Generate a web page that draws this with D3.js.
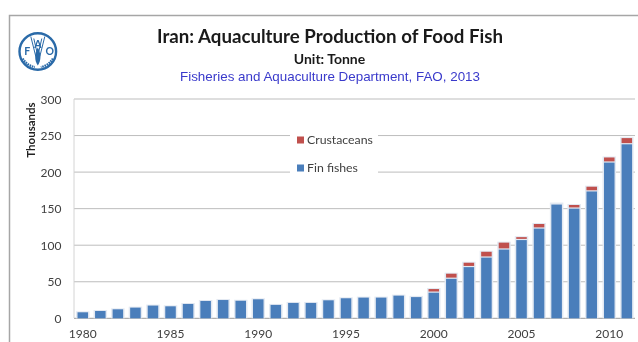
<!DOCTYPE html>
<html><head><meta charset="utf-8">
<script src="https://cdn.jsdelivr.net/npm/d3@7"></script>
<style>html,body{margin:0;padding:0;background:#fff}svg{display:block;filter:blur(.45px)}text{font-family:Lato,sans-serif}</style>
</head><body><div id="c"></div>
<script>
const years=d3.range(1980,2012);
const finFishes=[8.2,10,12.3,14.6,17.4,16.4,19.6,23.7,25,24,26,18.3,21,21,24.6,27.4,28.3,28.3,31,29,35,54,70,83,94,107,122.7,155.6,150,173.5,213,238];
const crustaceans=[0,0,0,0,0,0,0,0,0,0,0,0,0,0,0,0,0,0,0,0.3,5,7,6,8,9.5,4,6.3,1.4,5,6.5,7,8.5];
const yTicks=[0,50,100,150,200,250,300];
const xTickYears=[1980,1985,1990,1995,2000,2005,2010];
const legendItems=["Crustaceans","Fin fishes"];
const titleText="Iran: Aquaculture Production of Food Fish";
const unitText="Unit: Tonne";
const sourceText="Fisheries and Aquaculture Department, FAO, 2013";
const axisLabel="Thousands";

const svg=d3.select("#c").append("svg").attr("width",638).attr("height",342);
const x=d3.scaleBand().domain(years).range([74,635.6]).paddingInner(.4).paddingOuter(.2);
const y=d3.scaleLinear().domain([0,300]).range([318.3,99]);

svg.append("path").attr("d","M9.5,342V15.5H638").attr("fill","none").attr("stroke","#a6a6a6").attr("stroke-width",1.5);

const g=svg.append("g");
g.selectAll("line.grid").data(yTicks).join("line").attr("class","grid")
 .attr("x1",74).attr("x2",635).attr("y1",d=>y(d)).attr("y2",d=>y(d))
 .attr("stroke",d=>d==0?"#9a9a9a":"#bdbdbd").attr("stroke-width",1);
g.append("line").attr("x1",74).attr("x2",74).attr("y1",99).attr("y2",318).attr("stroke","#d4d4d4");

const yAxis=d3.axisLeft(y).tickValues(yTicks).tickSize(0).tickPadding(0);
const ya=svg.append("g").attr("transform","translate(61.5,0)").call(yAxis);
ya.select(".domain").remove();
ya.selectAll("text").attr("font-size",12).attr("fill","#404040").attr("style","font-family:Lato,sans-serif").attr("dy","0.35em");

const xAxis=d3.axisBottom(x).tickValues(xTickYears).tickSize(0).tickPadding(0);
const xa=svg.append("g").attr("transform","translate(0,329)").call(xAxis);
xa.select(".domain").remove();
xa.selectAll("text").attr("font-size",12).attr("fill","#404040").attr("dy","0.71em").attr("y",0);

const rows=years.map((yr,i)=>({yr,fin:finFishes[i],cr:crustaceans[i]}));
svg.append("g").selectAll("rect").data(rows).join("rect")
 .attr("x",d=>x(d.yr)-1.5).attr("width",x.bandwidth()+3)
 .attr("y",d=>y(d.fin+d.cr)-1).attr("height",d=>y(0)-y(d.fin+d.cr)+1).attr("fill","#e3e9f2");
svg.append("g").selectAll("rect").data(rows).join("rect")
 .attr("x",d=>x(d.yr)).attr("width",x.bandwidth())
 .attr("y",d=>y(d.fin)).attr("height",d=>y(0)-y(d.fin)).attr("fill","#4a7ebb");
svg.append("g").selectAll("rect").data(rows.filter(d=>d.cr>0.5)).join("rect")
 .attr("x",d=>x(d.yr)).attr("width",x.bandwidth())
 .attr("y",d=>y(d.fin+d.cr)).attr("height",d=>Math.max(0,y(d.fin)-y(d.fin+d.cr)-1.2)).attr("fill","#c0504d");

svg.append("rect").attr("x",290).attr("y",129).attr("width",88).attr("height",50).attr("fill","#fff");
const legendColors=["#c0504d","#4a7ebb"];
const legendY=d3.scalePoint().domain(legendItems).range([140,168]);
const lg=svg.append("g").selectAll("g").data(legendItems).join("g").attr("transform",d=>`translate(297,${legendY(d)})`);
lg.append("rect").attr("y",-3.5).attr("width",7).attr("height",7).attr("fill",(d,i)=>legendColors[i]);
lg.append("text").attr("x",10).attr("dy","0.35em").attr("font-size",12.3).attr("fill","#404040").text(d=>d);

svg.append("text").attr("x",330).attr("y",43).attr("text-anchor","middle").attr("font-size",18.7).attr("font-weight",700).attr("fill","#1a1a1a").text(titleText);
svg.append("text").attr("x",329.5).attr("y",64).attr("text-anchor","middle").attr("font-size",14).attr("font-weight",700).attr("fill","#1a1a1a").text(unitText);
svg.append("text").attr("x",330).attr("y",81).attr("text-anchor","middle").attr("font-size",13.4).attr("fill","#3a3acb").style("font-family","'Liberation Sans',sans-serif").text(sourceText);
svg.append("text").attr("transform","translate(35,130) rotate(-90)").attr("text-anchor","middle").attr("font-size",11.5).attr("font-weight",700).attr("fill","#222").text(axisLabel);

// FAO emblem
const logoBlue="#2a6aa8";
const logo=svg.append("g").attr("transform","translate(37.8,51.5)");
logo.append("circle").attr("r",18.3).attr("fill","#fff").attr("stroke",logoBlue).attr("stroke-width",2.4);
[[-10.5,0,"F"],[0,-7,"A"],[12,0,"O"]].forEach(([a,b,t])=>logo.append("text").attr("x",a).attr("y",b+3).attr("text-anchor","middle").attr("font-size",10.5).attr("font-weight",700).attr("fill",logoBlue).text(t));
logo.append("path").attr("d","M0,-4C-3.5,2 -3.5,9 0,14C3.5,9 3.5,2 0,-4Z").attr("fill",logoBlue);
logo.append("path").attr("d","M-7,-15L-2,5M7,-15L2,5M-4,-13L-1,0M4,-13L1,0").attr("stroke",logoBlue).attr("stroke-width",1).attr("fill","none");
logo.append("path").attr("d","M-15,7A17,17 0 0 0 -3,15.5M15,7A17,17 0 0 1 3,15.5").attr("stroke",logoBlue).attr("stroke-width",2.2).attr("stroke-dasharray","1.6 .8").attr("fill","none");
</script></body></html>
